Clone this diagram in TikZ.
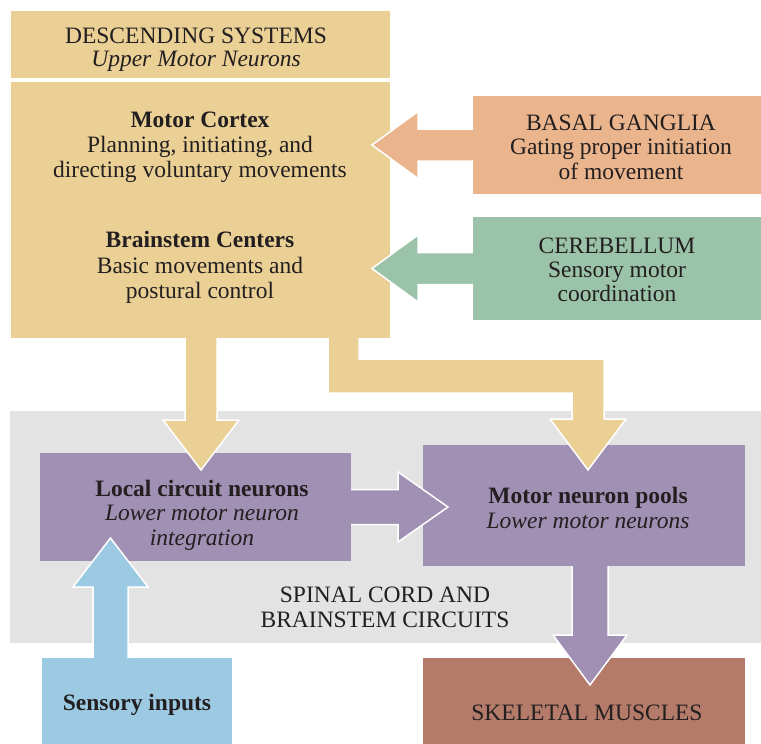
\documentclass[tikz,border=0pt]{standalone}
\usepackage{fontspec}
\setmainfont{Liberation Serif}
\usetikzlibrary{calc}
\definecolor{tanc}{RGB}{235,208,150}
\definecolor{salmonc}{RGB}{234,180,140}
\definecolor{greenc}{RGB}{154,195,169}
\definecolor{grayc}{RGB}{227,227,227}
\definecolor{purplec}{RGB}{160,144,179}
\definecolor{brownc}{RGB}{181,123,106}
\definecolor{bluec}{RGB}{157,202,227}
\definecolor{textc}{RGB}{35,31,32}
\begin{document}
\begin{tikzpicture}[x=1pt,y=-1pt,
  blk/.style={rectangle, draw=none, inner sep=0pt, outer sep=0pt, anchor=north west},
  lbl/.style={anchor=base, inner sep=0pt, text=textc, font=\fontsize{23.5}{25}\selectfont},
  arr/.style={draw=white, line width=1.5pt, line join=miter}]
\useasboundingbox (0,0) rectangle (761,744);
% boxes
\node[blk, fill=grayc, minimum width=751pt, minimum height=232pt] (spinal) at (10,411) {};
\node[blk, fill=tanc, minimum width=379pt, minimum height=67pt] (desc) at (11,11) {};
\node[blk, fill=tanc, minimum width=379pt, minimum height=256pt] (main) at (11,82) {};
\node[blk, fill=salmonc, minimum width=288pt, minimum height=98pt] (basal) at (473,96) {};
\node[blk, fill=greenc, minimum width=288pt, minimum height=103pt] (cereb) at (473,217) {};
\node[blk, fill=purplec, minimum width=311pt, minimum height=108pt] (local) at (40,453) {};
\node[blk, fill=purplec, minimum width=322pt, minimum height=121pt] (pools) at (423,445) {};
\node[blk, fill=brownc, minimum width=322pt, minimum height=86pt] (muscles) at (423,658) {};
\node[blk, fill=bluec, minimum width=190pt, minimum height=86pt] (sensory) at (42,658) {};
% block arrows
\filldraw[arr, fill=salmonc] ($(basal.west)+(0,-16)$) -- ++(-55,0) -- ++(0,-17.5) -- ++(-46,33.5) -- ++(46,33.5) -- ++(0,-17.5) -- ++(55,0);
\filldraw[arr, fill=greenc] ($(cereb.west)+(0,-16)$) -- ++(-55,0) -- ++(0,-17.5) -- ++(-46,33.5) -- ++(46,33.5) -- ++(0,-17.5) -- ++(55,0);
\filldraw[arr, fill=tanc] ($(main.south west)+(174,0)$) -- ++(0,82) -- ++(-22,0) -- ++(38,50) -- ++(38,-50) -- ++(-22,0) -- ++(0,-82);
\filldraw[arr, fill=tanc] ($(main.south west)+(317,0)$) -- ++(0,55) -- ++(244,0) -- ++(0,26) -- ++(-22,0) -- ++(38,51) -- ++(38,-51) -- ++(-22,0) -- ++(0,-60) -- ++(-245,0) -- ++(0,-21);
\filldraw[arr, fill=purplec] ($(local.east)+(0,-17.5)$) -- ++(47,0) -- ++(0,-17.5) -- ++(50,35) -- ++(-50,35) -- ++(0,-17.5) -- ++(-47,0);
\filldraw[arr, fill=purplec] ($(pools.south)+(-12,0)$) -- ++(0,69) -- ++(-19,0) -- ++(37,50) -- ++(37,-50) -- ++(-19,0) -- ++(0,-69);
\filldraw[arr, fill=bluec] ($(sensory.north west)+(51,0)$) -- ++(0,-71) -- ++(-20,0) -- ++(37.5,-49) -- ++(37.5,49) -- ++(-20,0) -- ++(0,71);
% texts
\node[lbl] (desc1) at (196,43) {DESCENDING SYSTEMS};
\node[lbl] (desc2) at (196,66) {\itshape Upper Motor Neurons};
\node[lbl] (mc1) at (200,127) {\bfseries Motor Cortex};
\node[lbl] (mc2) at (200,152) {Planning, initiating, and};
\node[lbl] (mc3) at (200,177) {directing voluntary movements};
\node[lbl] (bs1) at (200,247) {\bfseries Brainstem Centers};
\node[lbl] (bs2) at (200,273) {Basic movements and};
\node[lbl] (bs3) at (200,298) {postural control};
\node[lbl] (bg1) at (621,130) {BASAL GANGLIA};
\node[lbl] (bg2) at (621,154) {Gating proper initiation};
\node[lbl] (bg3) at (621,179) {of movement};
\node[lbl] (cb1) at (617,253) {CEREBELLUM};
\node[lbl] (cb2) at (617,277) {Sensory motor};
\node[lbl] (cb3) at (617,301) {coordination};
\node[lbl] (lc1) at (202,496) {\bfseries Local circuit neurons};
\node[lbl] (lc2) at (202,520) {\itshape Lower motor neuron};
\node[lbl] (lc3) at (202,545) {\itshape integration};
\node[lbl] (mp1) at (588,503) {\bfseries Motor neuron pools};
\node[lbl] (mp2) at (588,528) {\itshape Lower motor neurons};
\node[lbl] (sc1) at (385,602) {SPINAL CORD AND};
\node[lbl] (sc2) at (385,627) {BRAINSTEM CIRCUITS};
\node[lbl] (si) at (137,710) {\bfseries Sensory inputs};
\node[lbl] (sm) at (587,720) {SKELETAL MUSCLES};
\end{tikzpicture}
\end{document}
